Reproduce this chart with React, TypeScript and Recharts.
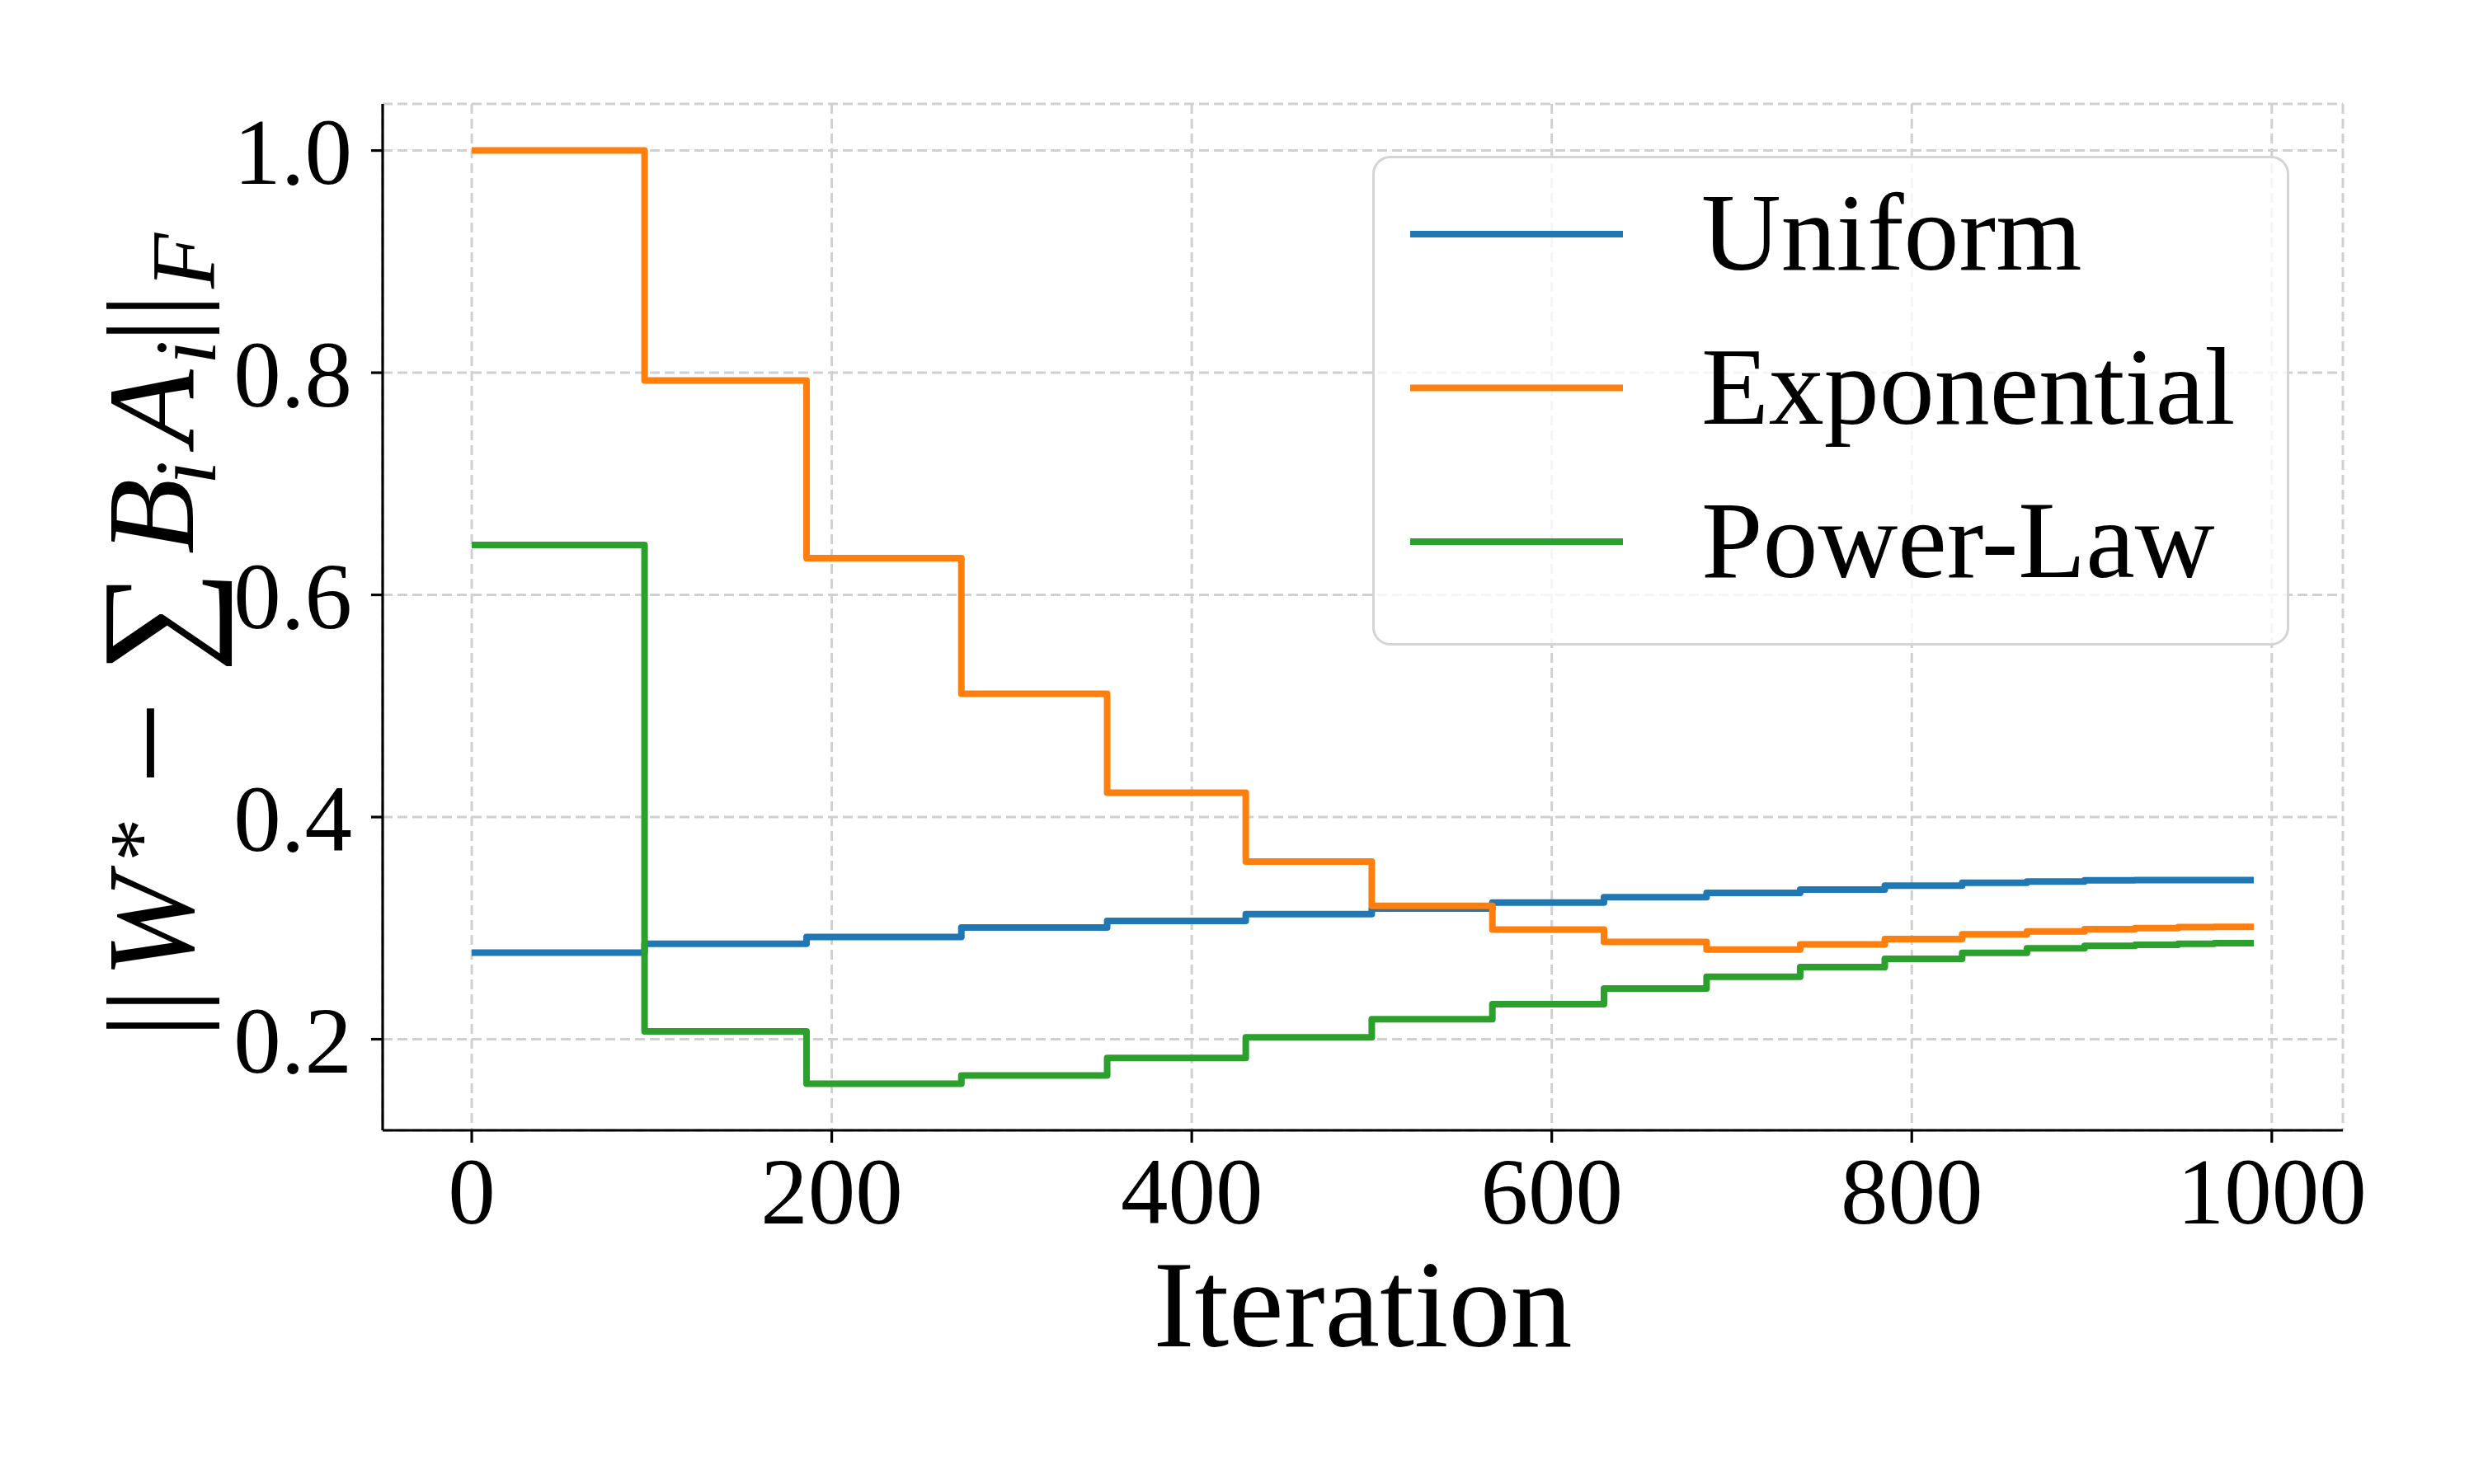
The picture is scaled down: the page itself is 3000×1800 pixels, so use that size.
import React from 'react';
import { LineChart, Line, XAxis, YAxis, CartesianGrid, Legend } from 'recharts';

// Iteration at which each step starts (last entry = end of the run)
const iterations = [0, 96, 186, 272, 353, 430, 500, 567, 629, 686, 738, 785, 828, 864, 896, 924, 948, 968, 990];

const uniform = [0.278, 0.286, 0.292, 0.3005, 0.3066, 0.3126, 0.3177, 0.323, 0.3278, 0.3317, 0.3348, 0.3383, 0.3408, 0.342, 0.343, 0.3432, 0.3432, 0.3433, 0.3433];
const exponential = [1.0, 0.793, 0.633, 0.511, 0.422, 0.36, 0.3201, 0.2987, 0.2876, 0.2808, 0.2853, 0.2902, 0.2944, 0.2971, 0.2991, 0.3001, 0.3009, 0.3012, 0.3012];
const powerLaw = [0.645, 0.207, 0.16, 0.1674, 0.1831, 0.2017, 0.2181, 0.2316, 0.2457, 0.2562, 0.2649, 0.2724, 0.2778, 0.2818, 0.284, 0.285, 0.286, 0.2865, 0.2865];

const xTicks = [0, 200, 400, 600, 800, 1000];
const yTicks = [0.2, 0.4, 0.6, 0.8, 1.0];

const seriesNames = ['Uniform', 'Exponential', 'Power-Law'];
const seriesKeys = ['uniform', 'exponential', 'powerLaw'];
const seriesColors = ['#1f77b4', '#ff7f0e', '#2ca02c'];

const rows = iterations.map((x, i) => ({
  x,
  uniform: uniform[i],
  exponential: exponential[i],
  powerLaw: powerLaw[i],
}));

const FONT = "'Liberation Serif', 'Times New Roman', serif";

const renderLegend = () => (
  <div
    style={{
      width: 1112,
      height: 594,
      boxSizing: 'border-box',
      border: '3px solid #d4d4d4',
      borderRadius: 22,
      background: 'rgba(255,255,255,0.8)',
      position: 'relative',
    }}
  >
    <svg width={1106} height={588} style={{ position: 'absolute', left: 0, top: 0 }}>
      {seriesNames.map((name, i) => (
        <g key={name}>
          <line x1={43} x2={301} y1={92 + i * 186.5} y2={92 + i * 186.5} stroke={seriesColors[i]} strokeWidth={8} />
          <text x={396} y={135 + i * 186.5} fontSize={134} fontFamily={FONT} fill="#000">
            {name}
          </text>
        </g>
      ))}
    </svg>
  </div>
);

const renderYLabel = () => (
  <g transform="translate(234,1248) rotate(-90)" fill="#000" fontFamily={FONT}>
    <text fontSize={150}>
      <tspan x={-11} y={0}>||</tspan>
      <tspan x={62} y={0} fontStyle="italic">W</tspan>
      <tspan x={203} y={-28} fontSize={105}>*</tspan>
      <tspan x={296} y={8} fontSize={180}>−</tspan>
      <tspan x={432} y={10} fontSize={175}>∑</tspan>
      <tspan x={576} y={0} fontStyle="italic">B</tspan>
      <tspan x={660} y={27} fontSize={105} fontStyle="italic">i</tspan>
      <tspan x={708} y={0} fontStyle="italic">A</tspan>
      <tspan x={806} y={27} fontSize={105} fontStyle="italic">i</tspan>
      <tspan x={832} y={0}>||</tspan>
      <tspan x={898} y={25} fontSize={110} fontStyle="italic">F</tspan>
    </text>
  </g>
);

const renderXLabel = (props: any) => {
  const vb = props.viewBox || { x: 464, width: 2377 };
  return (
    <text
      x={vb.x + vb.width / 2}
      y={1633}
      textAnchor="middle"
      fontSize={150}
      fontFamily={FONT}
      fill="#000"
    >
      Iteration
    </text>
  );
};

const tickStyle = { fill: '#000', fontSize: 115, fontFamily: FONT };
const spine = { stroke: '#000', strokeWidth: 3.2 };

export default function App() {
  return (
    <div style={{ position: 'absolute', left: 0, top: 0, width: 3000, height: 1800, background: '#fff' }}>
      <LineChart width={3000} height={1800} data={rows} margin={{ top: 126, right: 159, bottom: 329, left: 364 }}>
        <CartesianGrid stroke="#d0d0d0" strokeDasharray="12 6" strokeWidth={3} />
        <XAxis
          type="number"
          dataKey="x"
          domain={[-49.5, 1039.5]}
          ticks={xTicks}
          interval={0}
          allowDataOverflow
          height={100}
          tickSize={15}
          tickMargin={16}
          axisLine={spine}
          tickLine={spine}
          tick={tickStyle}
          label={{ content: renderXLabel }}
        />
        <XAxis
          xAxisId="top"
          orientation="top"
          type="number"
          dataKey="x"
          domain={[-49.5, 1039.5]}
          allowDataOverflow
          height={0}
          tick={false}
          tickLine={false}
          axisLine={spine}
        />
        <YAxis
          type="number"
          domain={[0.118, 1.042]}
          ticks={yTicks}
          interval={0}
          allowDataOverflow
          width={100}
          tickSize={14}
          tickMargin={23}
          axisLine={spine}
          tickLine={spine}
          tick={tickStyle}
          tickFormatter={(v: number) => v.toFixed(1)}
          label={{ content: renderYLabel }}
        />
        <YAxis
          yAxisId="right"
          orientation="right"
          type="number"
          domain={[0.118, 1.042]}
          allowDataOverflow
          width={0}
          tick={false}
          tickLine={false}
          axisLine={spine}
        />
        {seriesKeys.map((k, i) => (
          <Line
            key={k}
            type="stepAfter"
            dataKey={k}
            name={seriesNames[i]}
            stroke={seriesColors[i]}
            strokeWidth={8}
            strokeLinejoin="round"
            dot={false}
            activeDot={false}
            isAnimationActive={false}
          />
        ))}
        <Legend
          layout="vertical"
          align="center"
          verticalAlign="middle"
          content={renderLegend}
          wrapperStyle={{ left: 1664, top: 189, width: 1112, height: 594 }}
        />
      </LineChart>
    </div>
  );
}
